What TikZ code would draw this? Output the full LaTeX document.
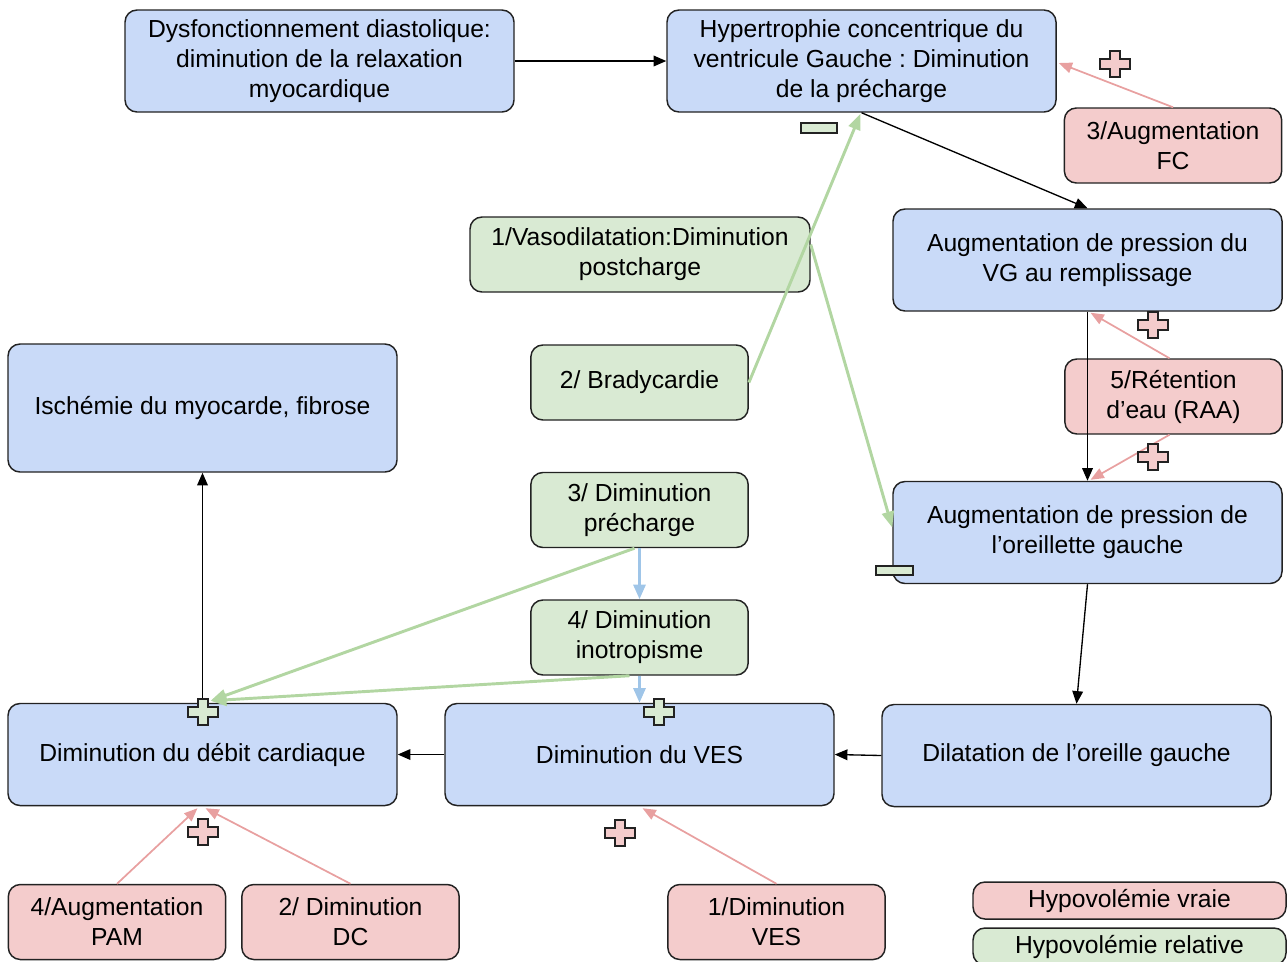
\documentclass[tikz,border=0pt]{standalone}
\usepackage{fontspec}
\setmainfont{Liberation Sans}
\usetikzlibrary{arrows.meta,calc}
\definecolor{bluefill}{HTML}{C9DAF8}
\definecolor{redfill}{HTML}{F4CCCC}
\definecolor{greenfill}{HTML}{D9EAD3}
\definecolor{pinkline}{HTML}{E8A0A0}
\definecolor{greenline}{HTML}{B2D6A2}
\definecolor{blueline}{HTML}{9FC5E8}
\definecolor{edgecol}{HTML}{222222}
\frenchspacing
\begin{document}
\begin{tikzpicture}[x=0.75pt,y=-0.75pt,
  box/.style={draw=edgecol, line width=1.1pt, rounded corners=9pt, align=center, inner sep=0pt,
    font=\fontsize{18.5}{22.5}\selectfont},
  bluebox/.style={box, fill=bluefill},
  redbox/.style={box, fill=redfill},
  greenbox/.style={box, fill=greenfill},
  bigsize/.style={minimum width=291.75pt, minimum height=76.5pt},
  smallsize/.style={minimum width=163pt, minimum height=56.25pt},
  blackarrow/.style={draw=black, line width=1pt, -{Triangle[length=9.5pt,width=8pt]}},
  pinkarrow/.style={draw=pinkline, line width=1.3pt, -{Triangle[length=10pt,width=8pt]}},
  greenarrow/.style={draw=greenline, line width=2.2pt, -{Triangle[length=12pt,width=9pt]}},
  bluearrow/.style={draw=blueline, line width=2.2pt, -{Triangle[length=11pt,width=9pt]}},
  minusmark/.style={draw=edgecol, line width=1pt, fill=greenfill},
  pics/crossmark/.style={code={
    \draw[draw=edgecol, line width=1pt, fill=#1]
      (-15,-5) -- (-5,-5) -- (-5,-13) -- (5,-13) -- (5,-5) -- (15,-5) -- (15,5)
      -- (5,5) -- (5,13) -- (-5,13) -- (-5,5) -- (-15,5) -- cycle;}}
]
\useasboundingbox (0,0) rectangle (1287,961);

% nodes
\node[bluebox, bigsize] (dysf) at (319.5,61) {Dysfonctionnement diastolique:\\diminution de la relaxation\\myocardique};
\node[bluebox, bigsize] (hyp) at (861.5,61) {Hypertrophie concentrique du\\ventricule Gauche : Diminution\\de la précharge};
\node[redbox, smallsize] (fc) at (1173,145.5) {3/Augmentation\\FC};
\node[bluebox, bigsize] (vg) at (1087.5,260) {Augmentation de pression du\\VG au remplissage};
\node[greenbox, minimum width=255pt, minimum height=56.25pt] (vaso) at (640,254.5) {1/Vasodilatation:Diminution\\postcharge};
\node[greenbox, smallsize] (brady) at (639.5,382.5) {2/ Bradycardie};
\node[bluebox, minimum width=291.75pt, minimum height=96pt] (isch) at (202.5,408) {Ischémie du myocarde, fibrose};
\node[redbox, smallsize] (ret) at (1173.5,396.5) {5/Rétention\\d’eau (RAA)};
\node[greenbox, smallsize] (prech) at (639.5,510) {3/ Diminution\\précharge};
\node[bluebox, bigsize] (oreil) at (1087.5,532.5) {Augmentation de pression de\\l’oreillette gauche};
\node[greenbox, smallsize] (inot) at (639.5,637.5) {4/ Diminution\\inotropisme};
\node[bluebox, bigsize] (debit) at (202.5,754.5) {Diminution du débit cardiaque};
\node[bluebox, bigsize] (ves) at (639.5,754.5) {Diminution du VES};
\node[bluebox, bigsize] (dil) at (1076.5,755.5) {Dilatation de l’oreille gauche};
\node[redbox, smallsize] (pam) at (117,922) {4/Augmentation\\PAM};
\node[redbox, smallsize] (dc) at (350.5,922) {2/ Diminution\\DC};
\node[redbox, smallsize] (dves) at (776.5,922) {1/Diminution\\VES};
\node[redbox, minimum width=234.75pt, minimum height=27.75pt] (lgv) at (1129.5,900.5) {Hypovolémie vraie};
\node[greenbox, minimum width=234.75pt, minimum height=27.75pt] (lgr) at (1129.5,946.5) {Hypovolémie relative};

% black connectors
\draw[blackarrow] (dysf.east) -- (hyp.west);
\draw[blackarrow] (hyp.south) -- (vg.north);
\draw[blackarrow] (vg.south) -- (oreil.north);
\draw[blackarrow] (oreil.south) -- (dil.north);
\draw[blackarrow] (dil.west) -- (ves.east);
\draw[blackarrow] (ves.west) -- (debit.east);
\draw[blackarrow] (debit.north) -- (isch.south);

% pink connectors
\draw[pinkarrow] (fc.north) -- ($(hyp.east)+(2,2)$);
\draw[pinkarrow] ($(ret.north)+(-4,0)$) -- ($(vg.south)+(3,1)$);
\draw[pinkarrow] ($(ret.south)+(-4,0)$) -- ($(oreil.north)+(3,-1)$);
\draw[pinkarrow] (pam.north) -- ($(debit.south)+(-5,2)$);
\draw[pinkarrow] (dc.north) -- ($(debit.south)+(3,2)$);
\draw[pinkarrow] (dves.north) -- ($(ves.south)+(3,2)$);

% green connectors
\draw[greenarrow] (brady.east) -- ($(hyp.south)+(-1,1)$);
\draw[greenarrow] ($(vaso.east)+(0,-10)$) -- ($(oreil.west)+(0,-5)$);
\draw[greenarrow] ($(prech.south)+(-5,0)$) -- ($(debit.north)+(8,-2)$);
\draw[greenarrow] ($(inot.south)+(-10,0)$) -- ($(debit.north)+(8,-2)$);

% blue connectors
\draw[bluearrow] (prech.south) -- (inot.north);
\draw[bluearrow] (inot.south) -- (ves.north);

% signs
\pic at (1115,64) {crossmark=redfill};
\pic at (1153,325) {crossmark=redfill};
\pic at (1153,457) {crossmark=redfill};
\pic at (203,832) {crossmark=redfill};
\pic at (620,833) {crossmark=redfill};
\pic at (203,712) {crossmark=greenfill};
\pic at (659,712) {crossmark=greenfill};
\draw[minusmark] (801,123) rectangle (837,133);
\draw[minusmark] (876,566) rectangle (913,575);
\end{tikzpicture}
\end{document}
